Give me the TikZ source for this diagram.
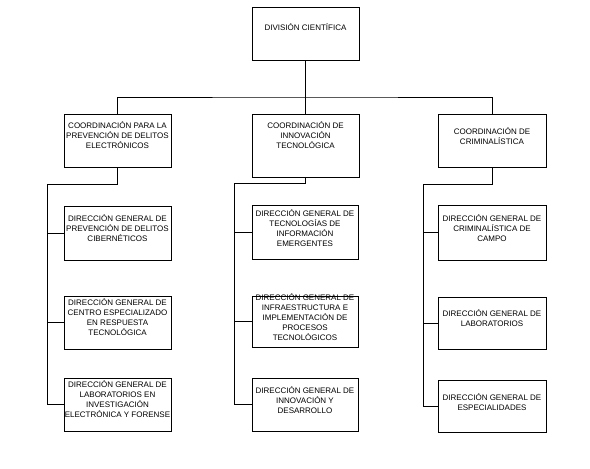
\documentclass[tikz,border=0pt]{standalone}
\usepackage{fontspec}
\setmainfont{Liberation Sans}

\tikzset{
  unit/.style={draw, line width=0.8pt, minimum width=107pt, minimum height=53pt, inner sep=0pt},
  unittext/.style={font=\fontsize{8}{10}\selectfont, align=center, inner sep=0pt},
  link/.style={line width=0.8pt}
}

\begin{document}
\begin{tikzpicture}[x=1pt, y=-1pt]
\useasboundingbox (0,0) rectangle (590,469);

\node[unit] (top) at (305.5,33.5) {};
\node[unittext] (topt) at ([yshift=6.5pt]top.center) {DIVISIÓN CIENTÍFICA};

\node[unit] (c1) at (117.5,140.5) {};
\node[unit, minimum height=63pt] (c2) at (305.5,145.5) {};
\node[unit, minimum width=108pt] (c3) at (492,140.5) {};
\node[unittext] (c1t) at ([yshift=5pt]c1.center) {COORDINACIÓN PARA LA\\PREVENCIÓN DE DELITOS\\ELECTRÓNICOS};
\node[unittext] (c2t) at ([yshift=10pt]c2.center) {COORDINACIÓN DE\\INNOVACIÓN\\TECNOLÓGICA};
\node[unittext] (c3t) at ([yshift=4pt]c3.center) {COORDINACIÓN DE\\CRIMINALÍSTICA};

\node[unit, minimum height=54pt] (d11) at (117.5,233) {};
\node[unit] (d12) at (117.5,322.5) {};
\node[unit] (d13) at (117.5,404.5) {};
\node[unittext] (d11t) at ([yshift=5pt]d11.center) {DIRECCIÓN GENERAL DE\\PREVENCIÓN DE DELITOS\\CIBERNÉTICOS};
\node[unittext] (d12t) at ([yshift=5pt]d12.center) {DIRECCIÓN GENERAL DE\\CENTRO ESPECIALIZADO\\EN RESPUESTA\\TECNOLÓGICA};
\node[unittext] (d13t) at ([yshift=5pt]d13.center) {DIRECCIÓN GENERAL DE\\LABORATORIOS EN\\INVESTIGACIÓN\\ELECTRÓNICA Y FORENSE};

\node[unit, minimum width=106pt, minimum height=54pt] (d21) at (305,232) {};
\node[unit, minimum width=106pt, minimum height=51pt] (d22) at (305,321.5) {};
\node[unit, minimum width=106pt] (d23) at (305,404.5) {};
\node[unittext] (d21t) at ([yshift=4pt]d21.center) {DIRECCIÓN GENERAL DE\\TECNOLOGÍAS DE\\INFORMACIÓN\\EMERGENTES};
\node[unittext] (d22t) at ([yshift=4.5pt]d22.center) {DIRECCIÓN GENERAL DE\\INFRAESTRUCTURA E\\IMPLEMENTACIÓN DE\\PROCESOS\\TECNOLÓGICOS};
\node[unittext] (d23t) at ([yshift=4.5pt]d23.center) {DIRECCIÓN GENERAL DE\\INNOVACIÓN Y\\DESARROLLO};

\node[unit, minimum width=108pt, minimum height=55pt] (d31) at (492,232.5) {};
\node[unit, minimum width=108pt, minimum height=52pt] (d32) at (492,323) {};
\node[unit, minimum width=108pt, minimum height=52pt] (d33) at (492,406) {};
\node[unittext] (d31t) at ([yshift=4.5pt]d31.center) {DIRECCIÓN GENERAL DE\\CRIMINALÍSTICA DE\\CAMPO};
\node[unittext] (d32t) at ([yshift=5pt]d32.center) {DIRECCIÓN GENERAL DE\\LABORATORIOS};
\node[unittext] (d33t) at ([yshift=4pt]d33.center) {DIRECCIÓN GENERAL DE\\ESPECIALIDADES};

% top level
\coordinate (bus) at (305.5,97);
\draw[link] (top) -- (bus);
\draw[link] (c1) |- (bus) -| (c3);
\draw[link] (bus) -- (c2);

% columns
\coordinate (s1) at (47,184);
\coordinate (s2) at (234,183.5);
\coordinate (s3) at (423,184);
\draw[link] (c1) |- (s1) |- (d13);
\draw[link] (s1 |- d11) -- (d11);
\draw[link] (s1 |- d12) -- (d12);
\draw[link] (c2) |- (s2) |- (d23);
\draw[link] (s2 |- d21) -- (d21);
\draw[link] (s2 |- d22) -- (d22);
\draw[link] (c3) |- (s3) |- (d33);
\draw[link] (s3 |- d31) -- (d31);
\draw[link] (s3 |- d32) -- (d32);
\end{tikzpicture}
\end{document}
